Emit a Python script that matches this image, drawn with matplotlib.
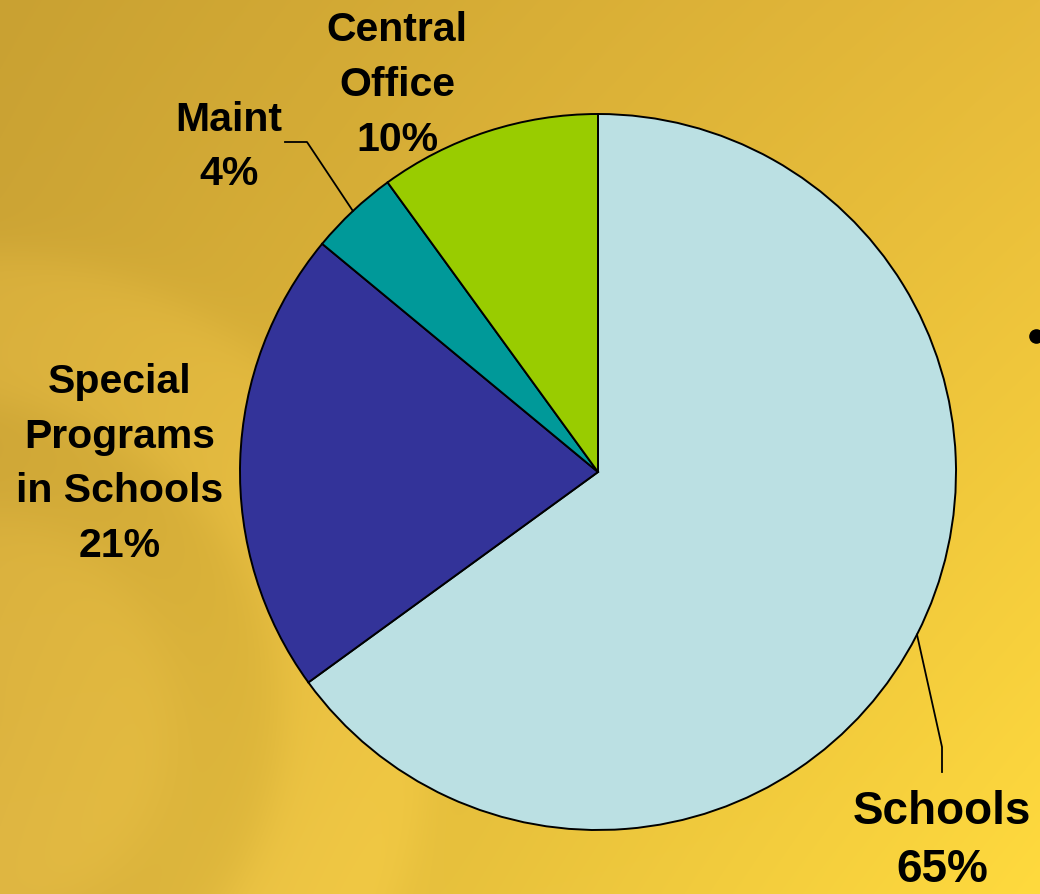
import numpy as np
import matplotlib.pyplot as plt

plt.rcParams['font.family'] = ['Liberation Sans', 'DejaVu Sans']

# budget shares (percent), clockwise from 12 o'clock
names = ['Schools', 'Special\nPrograms\nin Schools', 'Maint', 'Central\nOffice']
shares = [65, 21, 4, 10]
colors = ['#BBE0E3', '#333399', '#009999', '#99CC00']

W, H = 1040, 894
fig = plt.figure(figsize=(W / 100, H / 100), dpi=100)
ax = fig.add_axes([0, 0, 1, 1])

# warm gold backdrop: bilinear corner gradient plus soft rings at lower left
yy, xx = np.mgrid[0:H, 0:W]
u = xx / (W - 1)
v = yy / (H - 1)
tl = np.array([201, 161, 50])
tr = np.array([230, 186, 58])
bl = np.array([214, 174, 60])
br = np.array([255, 218, 62])
bg = ((1 - u)[..., None] * (1 - v)[..., None] * tl + u[..., None] * (1 - v)[..., None] * tr
      + (1 - u)[..., None] * v[..., None] * bl + u[..., None] * v[..., None] * br)
rr = np.hypot(xx + 40, yy - 720)
band = lambda lo, hi, soft: 1 / (1 + np.exp(-(rr - lo) / soft)) - 1 / (1 + np.exp(-(rr - hi) / soft))
glow = band(320, 470, 12) * 12 + band(0, 210, 15) * 10
bg = bg + glow[..., None] * np.array([1.0, 0.9, 0.6])
bg = np.clip(bg, 0, 255) / 255
ax.imshow(bg, extent=[0, W, H, 0], origin='upper', zorder=0)

cx, cy, r = 598, 472, 358
wedges, _ = ax.pie(shares, colors=colors, startangle=-90, counterclock=True,
                   center=(cx, cy), radius=r, frame=True,
                   wedgeprops=dict(edgecolor='black', linewidth=1.4))
for w in wedges:
    w.set_zorder(2)

ax.set_xlim(0, W)
ax.set_ylim(H, 0)
ax.set_aspect('equal')
ax.axis('off')

def edge_point(w):
    ang = np.deg2rad((w.theta1 + w.theta2) / 2)
    return cx + r * np.cos(ang), cy + r * np.sin(ang)

# leader lines for the two labels that sit away from their slices
x0, y0 = edge_point(wedges[0])
ax.plot([x0, 942, 942], [y0, 747, 772], color='black', lw=1.3, zorder=3)
x2, y2 = edge_point(wedges[2])
ax.plot([x2, 307, 285], [y2, 142, 142], color='black', lw=1.3, zorder=3)

label_pos = [(942, 841), (120, 464), (229, 147), (397, 85)]
label_size = [33, 29.5, 29.5, 29.5]
label_gap = [1.42, 1.56, 1.56, 1.56]
for name, pct, (lx, ly), fs, ls in zip(names, shares, label_pos, label_size, label_gap):
    ax.text(lx, ly, f'{name}\n{pct}%', ha='center', va='center', fontsize=fs,
            fontweight='bold', linespacing=ls, zorder=4)

# stray bullet at the right edge
ax.plot([1036], [336], marker='o', markersize=9.5, color='black', zorder=4, clip_on=True)

fig.savefig('out.png', dpi=100)
